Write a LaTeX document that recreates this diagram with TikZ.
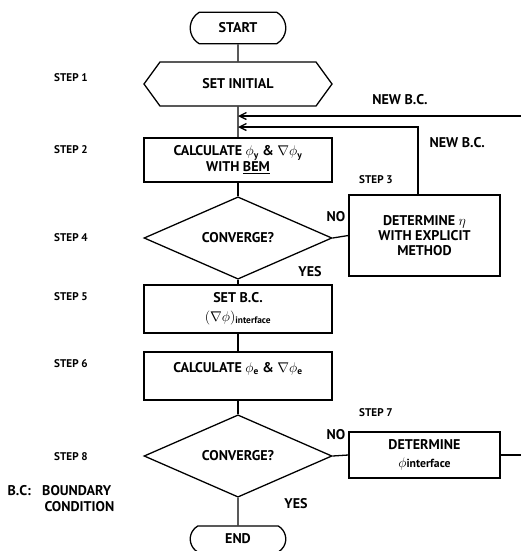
\documentclass[tikz,border=0pt]{standalone}
\usepackage{fontspec}
\setmainfont{PT Sans}
\usepackage{amsmath, amssymb}
\usetikzlibrary{arrows.meta}
\usetikzlibrary{shapes.geometric, shapes.misc, shapes.symbols}

\begin{document}
\begin{tikzpicture}[x=0.03cm, y=-0.03cm, line width=1.1pt,
    every node/.style={font=\bfseries\fontsize{12}{13}\selectfont},
    box/.style={draw, rectangle, minimum width=5.64cm, minimum height=1.32cm, align=center, inner sep=1pt},
    sidebox/.style={draw, rectangle, minimum width=4.53cm, align=center, inner sep=1pt},
    test/.style={draw, diamond, minimum width=5.64cm, minimum height=2.25cm, inner sep=0pt},
    term/.style={draw, rounded rectangle, rounded rectangle arc length=120, minimum width=3.1cm, minimum height=0.95cm},
    steplabel/.style={font=\bfseries\fontsize{9.5}{10}\selectfont},
    feed/.style={-{Straight Barb[length=6pt, width=6pt]}}]
    \useasboundingbox (0,0) rectangle (520,551);

    % main column
    \node [term] (start) at (238,28) {START};
    \node [draw, signal, signal to=west and east, signal pointer angle=108,
           minimum width=5.64cm, minimum height=1.32cm] (init) at (238,84) {SET INITIAL};
    \node [box] (bem) at (238,160) {CALCULATE $\phi_{\mathbf{y}}$ \& $\nabla\phi_{\mathbf{y}}$\\WITH \underline{BEM}};
    \node [test] (conv1) at (238,238) {CONVERGE?};
    \node [box, minimum height=1.44cm] (setbc) at (238,309) {SET B.C.\\[3pt]$(\nabla\phi)_{\text{interface}}$};
    \node [box, minimum height=1.44cm] (calce) at (238,376) {CALCULATE $\phi_{\mathbf{e}}$ \& $\nabla\phi_{\mathbf{e}}$\\[2pt]};
    \node [test] (conv2) at (238,456) {CONVERGE?};
    \node [term, minimum height=0.78cm] (finish) at (238,539) {END};

    % side boxes
    \node [sidebox, minimum height=2.43cm] (eta) at (424.5,235.5) {DETERMINE $\eta$\\WITH EXPLICIT\\METHOD};
    \node [sidebox, minimum height=1.38cm] (phiint) at (424.5,455) {DETERMINE\\[2pt]$\phi$\fontsize{10}{11}\selectfont interface};

    % step labels
    \node [steplabel] at (71,78) {STEP 1};
    \node [steplabel] at (71,150) {STEP 2};
    \node [steplabel] at (376,180) {STEP 3};
    \node [steplabel] at (71,238) {STEP 4};
    \node [steplabel] at (71,297) {STEP 5};
    \node [steplabel] at (71,364) {STEP 6};
    \node [steplabel] at (376,413) {STEP 7};
    \node [steplabel] at (71,457) {STEP 8};

    % main line
    \draw (start) -- (init);
    \draw (init) -- (bem);
    \draw (bem) -- (conv1);
    \draw (conv1) -- (setbc);
    \draw (setbc) -- (calce);
    \draw (calce) -- (conv2);
    \draw (conv2) -- (finish);

    % NO branch, step 4
    \draw (conv1.east) -- (eta.west);
    \node [above] at (336,226) {NO};
    \node [below] at (310,262) {YES};
    \coordinate (up3) at (418,127);
    \coordinate (j3) at (238,127);
    \draw [feed] (eta.north -| up3) -- (up3) -- (j3);
    \node [right] at (425,143) {NEW B.C.};

    % NO branch, step 8
    \draw (conv2.east) -- (phiint.west);
    \node [above] at (336,444) {NO};
    \node [below] at (296,494) {YES};
    \coordinate (far) at (526,116);
    \coordinate (j1) at (238,116);
    \draw [feed] (phiint.east) -| (far) -- (j1);
    \node [above] at (400,109) {NEW B.C.};

    % legend
    \node [right] at (3,491) {B.C:\hspace{0.8em}BOUNDARY};
    \node [right] at (40,507) {CONDITION};
\end{tikzpicture}
\end{document}
